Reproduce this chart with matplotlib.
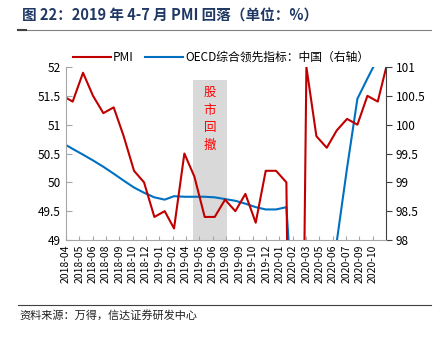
import pandas as pd
import matplotlib.pyplot as plt
from matplotlib.lines import Line2D

plt.rcParams['font.family'] = ['Noto Sans CJK SC', 'DejaVu Sans']

# monthly data, dated at month end
months = pd.date_range('2018-03-31', '2020-11-30', freq='ME')
pmi = [51.5, 51.4, 51.9, 51.5, 51.2, 51.3, 50.8, 50.2, 50.0, 49.4,
       49.5, 49.2, 50.5, 50.1, 49.4, 49.4, 49.7, 49.5, 49.8, 49.3,
       50.2, 50.2, 50.0, 35.7, 52.0, 50.8, 50.6, 50.9, 51.1, 51.0,
       51.5, 51.4, 52.1]
oecd = [99.68, 99.58, 99.48, 99.38, 99.27, 99.15, 99.03, 98.91, 98.82, 98.74,
        98.70, 98.76, 98.75, 98.75, 98.75, 98.74, 98.71, 98.68, 98.63, 98.57,
        98.53, 98.53, 98.57, 96.0, 95.6, 96.1, 96.7, 97.97, 99.25, 100.45,
        100.8, 101.15, 101.4]

# tick labels of the date axis (every 40 days)
axis_start = pd.Timestamp('2018-04-10')
axis_end = pd.Timestamp('2020-11-24')
tick_dates = pd.date_range(axis_start, periods=24, freq='40D')
tick_labels = [d.strftime('%Y-%m') for d in tick_dates]

# stock market pullback band (right-axis units)
shade_start = pd.Timestamp('2019-04-27')
shade_end = pd.Timestamp('2019-08-05')
shade_top = 100.78

red = '#C00000'
blue = '#0070C0'

fig = plt.figure(figsize=(4.38, 3.37), dpi=100)
ax = fig.add_axes([0.1507, 0.2878, 0.7300, 0.5134])
ax2 = ax.twinx()
ax.set_zorder(ax2.get_zorder() + 1)
ax.patch.set_visible(False)

ax2.fill_between([shade_start, shade_end], 98, shade_top, color='#d9d9d9', lw=0, zorder=0)
ax2.text(shade_start + (shade_end - shade_start) / 2, 100.1, '股\n市\n回\n撤', color='red',
         fontsize=9, ha='center', va='center', linespacing=1.45)

ax.plot(months, pmi, color=red, lw=1.5)
ax2.plot(months, oecd, color=blue, lw=1.5, zorder=2)

ax.set_xlim(axis_start, axis_end)
ax.set_ylim(49, 52)
ax2.set_ylim(98, 101)
ax.set_yticks([49, 49.5, 50, 50.5, 51, 51.5, 52])
ax.set_yticklabels(['49', '49.5', '50', '50.5', '51', '51.5', '52'], fontsize=8.5)
ax2.set_yticks([98, 98.5, 99, 99.5, 100, 100.5, 101])
ax2.set_yticklabels(['98', '98.5', '99', '99.5', '100', '100.5', '101'], fontsize=8.5)
ax.set_xticks(tick_dates)
ax.set_xticklabels(tick_labels, rotation=90, fontsize=7.5)

ax.spines['top'].set_visible(False)
ax2.spines['top'].set_visible(False)
ax.spines['right'].set_visible(False)
ax2.spines['left'].set_visible(False)
ax2.spines['bottom'].set_visible(False)
ax.spines['left'].set_color('#a6a6a6')
ax.spines['bottom'].set_color('#a6a6a6')
ax2.spines['right'].set_color('#404040')
ax.tick_params(axis='y', direction='in', length=4, color='#a6a6a6', pad=4)
ax.tick_params(axis='x', direction='in', length=3, color='#a6a6a6', pad=3)
ax2.tick_params(axis='y', direction='out', length=4, color='#404040', pad=3)

handles = [Line2D([], [], color=red, lw=1.5), Line2D([], [], color=blue, lw=1.5)]
fig.legend(handles, ['PMI', 'OECD综合领先指标：中国（右轴）'], loc='center',
           bbox_to_anchor=(0.505, 0.83), ncol=2, frameon=False, fontsize=8.5,
           handlelength=3.2, handletextpad=0.2, columnspacing=1.0)

fig.text(0.05, 0.955, '图 22：2019 年 4-7 月 PMI 回落（单位：%）', fontsize=10.5,
         fontweight='bold', color='#1f3864', va='center')
fig.add_artist(Line2D([0.04, 0.985], [0.912, 0.912], color='#808080', lw=0.8))
fig.add_artist(Line2D([0.04, 0.06], [0.912, 0.912], color='#404040', lw=1.5))
fig.add_artist(Line2D([0.04, 0.985], [0.096, 0.096], color='#404040', lw=0.8))
fig.text(0.045, 0.065, '资料来源：万得，信达证券研发中心', fontsize=8, style='italic',
         color='#202020', va='center')

fig.savefig('out.png', dpi=100)
